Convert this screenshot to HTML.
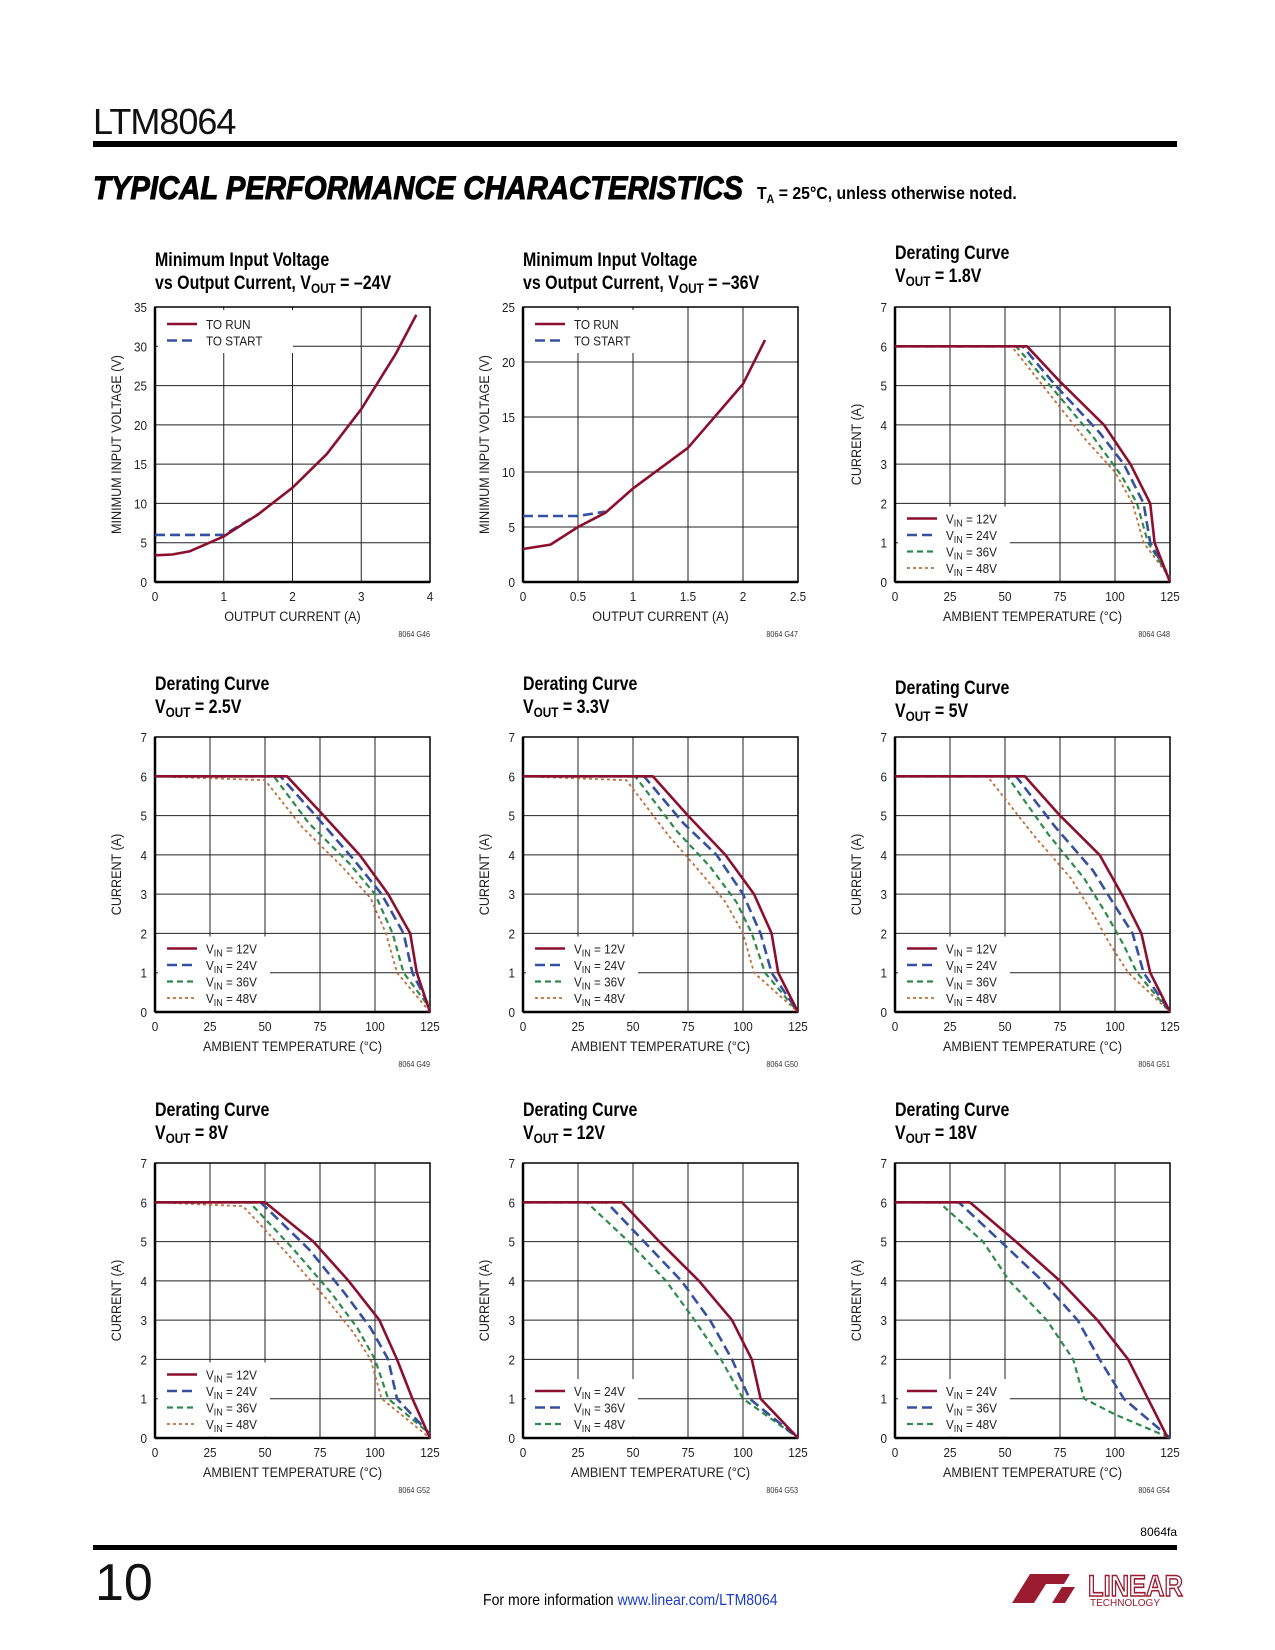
<!DOCTYPE html>
<html><head><meta charset="utf-8"><style>
html,body{margin:0;padding:0;background:#fff}
svg{display:block}
text{font-family:"Liberation Sans Narrow","Liberation Sans",sans-serif}
</style></head><body>
<svg id="page" width="1275" height="1650" viewBox="0 0 1275 1650" xmlns="http://www.w3.org/2000/svg">
<text x="93" y="134" font-size="36" fill="#111" style="font-family:'Liberation Sans',sans-serif" letter-spacing="-1">LTM8064</text>
<rect x="93" y="141" width="1084" height="6" fill="#000"/>
<text x="93" y="199" font-size="32" font-weight="bold" font-style="italic" fill="#000" stroke="#000" stroke-width="1" style="font-family:'Liberation Sans',sans-serif" textLength="650" lengthAdjust="spacingAndGlyphs">TYPICAL PERFORMANCE CHARACTERISTICS</text>
<g transform="translate(757,199) scale(0.88,1)"><text x="0" y="0" font-size="18" font-weight="bold" fill="#000">T<tspan font-size="12" dy="4">A</tspan><tspan dy="-4"> = 25°C, unless otherwise noted.</tspan></text></g>
<g id="charts"></g>
<text x="1177" y="1536" font-size="12" text-anchor="end" fill="#000">8064fa</text>
<rect x="93" y="1545" width="1084" height="5" fill="#000"/>
<text x="95" y="1600" font-size="52" fill="#111" style="font-family:'Liberation Sans',sans-serif">10</text>
<g transform="translate(483,1605) scale(0.88,1)"><text x="0" y="0" font-size="16" fill="#000">For more information <tspan fill="#1a3cc8">www.linear.com/LTM8064</tspan></text></g>
<g>
<path d="M1012 1603 L1030 1574 L1070 1574 L1064 1584 L1046 1584 L1034 1603 Z" fill="#9b1b30"/>
<path d="M1052 1603 L1062 1587 L1075 1587 L1065 1603 Z" fill="#9b1b30"/>
<g transform="translate(1088,1596) scale(0.85,1)"><text x="0" y="0" font-size="30" font-weight="bold" fill="none" stroke="#9b1b30" stroke-width="1.5">LINEAR</text></g>
<text x="1090" y="1606" font-size="10" fill="#9b1b30">TECHNOLOGY</text>
</g>
</svg>
<script>
// ---------- Chart 1 data ----------
const c1Cur=[0,0.25,0.5,1,1.5,2,2.5,3,3.5,3.8];
const c1Run=[3.4,3.5,3.9,5.8,8.6,12,16.3,22,29,34];
const c1StartCur=[0,1,1.5];
const c1Start=[6,6,8.6];
// ---------- Chart 2 data ----------
const c2Cur=[0,0.25,0.5,0.75,1,1.5,2,2.2];
const c2Run=[3,3.4,5,6.3,8.5,12.2,18,22];
const c2StartCur=[0,0.5,0.75];
const c2Start=[6,6,6.4];
// ---------- Derating data (temperature, current) ----------
const d18_12t=[0,60,75,95,107,116,118,125], d18_12=[6,6,5.1,4,3,2,1,0];
const d18_24t=[0,58,73,93,104,113,116,125], d18_24=[6,6,5,3.8,3,2,1,0.1];
const d18_36t=[0,55,72,90,103,110,115,125], d18_36=[6,6,4.9,3.7,2.7,2,1,0.1];
const d18_48t=[0,53,70,87,100,108,113,125], d18_48=[6,6,4.8,3.6,2.8,2,1,0.1];
const d25_12t=[0,60,75,93,106,116,119,125], d25_12=[6,6,5.1,4,3,2,1,0];
const d25_24t=[0,57,73,90,103,113,117,125], d25_24=[6,6,5,3.9,3,2,1,0.1];
const d25_36t=[0,54,70,88,100,108,113,125], d25_36=[6,6,4.8,3.8,3,2,1,0.1];
const d25_48t=[0,50,67,85,98,105,110,125], d25_48=[6,5.9,4.7,3.7,2.9,2,1,0];
const d33_12t=[0,59,75,92,105,113,116,125], d33_12=[6,6,5,4,3,2,1,0];
const d33_24t=[0,55,73,88,100,108,113,125], d33_24=[6,6,4.8,4,3,2,1,0];
const d33_36t=[0,51,70,85,97,104,110,125], d33_36=[6,6,4.6,3.7,2.8,2,1,0];
const d33_48t=[0,47,66,80,92,100,105,125], d33_48=[6,5.9,4.5,3.6,2.8,2,1,0];
const d5_12t=[0,59,75,93,103,112,116,125], d5_12=[6,6,5,4,3,2,1,0];
const d5_24t=[0,55,73,90,100,108,113,125], d5_24=[6,6,4.7,3.6,2.7,2,1,0];
const d5_36t=[0,51,70,86,96,104,110,125], d5_36=[6,6,4.5,3.4,2.5,1.7,1,0];
const d5_48t=[0,42,63,80,90,98,106,125], d5_48=[6,6,4.5,3.4,2.5,1.7,1,0];
const d8_12t=[0,50,72,88,102,110,117,125], d8_12=[6,6,5,4,3,2,1,0];
const d8_24t=[0,48,70,86,98,106,110,125], d8_24=[6,6,4.8,3.7,2.8,2,1,0.1];
const d8_36t=[0,43,63,80,92,100,106,125], d8_36=[6,6,4.8,3.7,2.8,2,1,0.1];
const d8_48t=[0,40,60,77,90,98,103,125], d8_48=[6,5.9,4.7,3.6,2.7,2,1,0];
const d12_24t=[0,45,62,80,95,104,108,125], d12_24=[6,6,5,4,3,2,1,0];
const d12_36t=[0,38,55,72,85,95,103,125], d12_36=[6,6,5,4,3,2,1,0];
const d12_48t=[0,29,48,65,78,90,100,125], d12_48=[6,6,5,4,3,2,1,0];
const d18_24vt=[0,34,55,75,92,106,115,124], d18_24v=[6,6,5,4,3,2,1,0];
const d18_36vt=[0,29,50,67,83,93,104,125], d18_36v=[6,6,4.9,4,3,2,1,0];
const d18_48vt=[0,20,40,52,69,81,86,100,125], d18_48v=[6,6,5,4,3,2,1,0.6,0];
const tempTicks=["0","25","50","75","100","125"];
const curTicks=["0","1","2","3","4","5","6","7"];

const NS="http://www.w3.org/2000/svg";
const root=document.getElementById('charts');
function mk(tag,attrs,parent){const e=document.createElementNS(NS,tag);for(const k in attrs)e.setAttribute(k,attrs[k]);(parent||root).appendChild(e);return e;}
function ctext(parent,x,y,sc,attrs){const w=mk('g',{transform:`translate(${x},${y}) scale(${sc},1)`},parent);return mk('text',Object.assign({x:0,y:0},attrs),w);}
const ST={
 red:{stroke:'#8c0f2e',w:2.6,dash:''},
 blue:{stroke:'#3550a0',w:2.6,dash:'10,5'},
 green:{stroke:'#2e8a4c',w:2.2,dash:'6,4'},
 orange:{stroke:'#c0703a',w:1.8,dash:'3,3'}
};
function chart(o){
 const g=mk('g',{});
 
 
 const L=o.x,T=o.y,W=275,H=275;
 const sx=v=>L+(v-o.xmin)/(o.xmax-o.xmin)*W;
 const sy=v=>T+H-(v-o.ymin)/(o.ymax-o.ymin)*H;
 const t1=ctext(g,L,o.ty,0.84,{'font-size':19,'font-weight':'bold',fill:'#000'});
 t1.textContent=o.t1;
 
 
 const t2=ctext(g,L,o.ty+23,0.84,{'font-size':19,'font-weight':'bold',fill:'#000'});
 
 
 t2.innerHTML=o.t2;
 for(let i=1;i<o.xt.length-1;i++){const X=L+i*W/(o.xt.length-1);mk('line',{x1:X,x2:X,y1:T,y2:T+H,stroke:'#222','stroke-width':1},g);}
 for(let i=1;i<o.yt.length-1;i++){const Y=T+H-i*H/(o.yt.length-1);mk('line',{x1:L,x2:L+W,y1:Y,y2:Y,stroke:'#222','stroke-width':1},g);}
 mk('rect',{x:L,y:T,width:W,height:H,fill:'none',stroke:'#000','stroke-width':1.5},g);
 mk('line',{x1:L,x2:L+W,y1:T+H,y2:T+H,stroke:'#000','stroke-width':2.5},g);
 mk('line',{x1:L,x2:L,y1:T,y2:T+H,stroke:'#000','stroke-width':2.5},g);
 o.xt.forEach((s,i)=>{const e=ctext(g,L+i*W/(o.xt.length-1),T+H+19,0.9,{'font-size':13,'text-anchor':'middle',fill:'#222'});e.textContent=s;});
 o.yt.forEach((s,i)=>{const e=ctext(g,L-8,T+H-i*H/(o.yt.length-1)+5,0.9,{'font-size':13,'text-anchor':'end',fill:'#222'});e.textContent=s;});
 const xa=ctext(g,L+W/2,T+H+39,0.9,{'font-size':14,'text-anchor':'middle',fill:'#222'});
 xa.textContent=o.xl;
 
 
 const ya=mk('text',{x:0,y:0,'font-size':14,'text-anchor':'middle',fill:'#222',transform:`translate(${L-34},${T+H/2}) rotate(-90) scale(0.9,1)`},g);
 ya.textContent=o.yl;
 
 
 const code=ctext(g,L+W,T+H+55,0.9,{'font-size':8,'text-anchor':'end',fill:'#333'});
 code.textContent=o.code;
 
 
 const n=o.series.length, rowH=16.5;
 let ly0;
 if(o.legTop){ly0=T+17;mk('rect',{x:L+3,y:T+3,width:135,height:n*rowH+10,fill:'#fff'},g);}
 else{ly0=T+H-14-(n-1)*rowH;mk('rect',{x:L+3,y:ly0-12,width:112,height:n*rowH+8,fill:'#fff'},g);}
 for(let k=n-1;k>=0;k--){const s=o.series[k],st=ST[s.c];
  const pts=s.xs.map((v,i)=>sx(v).toFixed(1)+','+sy(s.ys[i]).toFixed(1)).join(' ');
  const p=mk('polyline',{points:pts,fill:'none',stroke:st.stroke,'stroke-width':st.w,'stroke-dasharray':st.dash,'stroke-linejoin':'round'},g);
  
  
 }
 o.series.forEach((s,k)=>{const st=ST[s.c],Y=ly0+k*rowH;
  const ln=mk('line',{x1:L+12,x2:L+42,y1:Y,y2:Y,stroke:st.stroke,'stroke-width':st.w,'stroke-dasharray':st.dash},g);
  
  
  const tx=ctext(g,L+51,Y+5,0.9,{'font-size':13,fill:'#222'});
  tx.innerHTML=s.label;
  
  
 });
}
const vin=v=>`V<tspan font-size="10" dy="3">IN</tspan><tspan dy="-3"> = ${v}V</tspan>`;
const vout=v=>`V<tspan font-size="14" dy="4">OUT</tspan><tspan dy="-4"> = ${v}</tspan>`;
const colX=[155,523,895], rowY=[307,737,1163];
chart({name:'chart-min-vin-24v',x:colX[0],y:rowY[0],ty:266,t1:'Minimum Input Voltage',t2:'vs Output Current, '+vout('–24V'),
 xmin:0,xmax:4,ymin:0,ymax:35,xt:["0","1","2","3","4"],yt:["0","5","10","15","20","25","30","35"],
 xl:'OUTPUT CURRENT (A)',yl:'MINIMUM INPUT VOLTAGE (V)',code:'8064 G46',legTop:true,
 series:[{id:'to-run',c:'red',xs:c1Cur,ys:c1Run,label:'TO RUN'},{id:'to-start',c:'blue',xs:c1StartCur,ys:c1Start,label:'TO START'}]});
chart({name:'chart-min-vin-36v',x:colX[1],y:rowY[0],ty:266,t1:'Minimum Input Voltage',t2:'vs Output Current, '+vout('–36V'),
 xmin:0,xmax:2.5,ymin:0,ymax:25,xt:["0","0.5","1","1.5","2","2.5"],yt:["0","5","10","15","20","25"],
 xl:'OUTPUT CURRENT (A)',yl:'MINIMUM INPUT VOLTAGE (V)',code:'8064 G47',legTop:true,
 series:[{id:'to-run',c:'red',xs:c2Cur,ys:c2Run,label:'TO RUN'},{id:'to-start',c:'blue',xs:c2StartCur,ys:c2Start,label:'TO START'}]});
function der(name,x,y,ty,v,code,list){
 chart({name,x,y,ty,t1:'Derating Curve',t2:vout(v),xmin:0,xmax:125,ymin:0,ymax:7,xt:tempTicks,yt:curTicks,
  xl:'AMBIENT TEMPERATURE (°C)',yl:'CURRENT (A)',code,legTop:false,
  series:list.map(s=>({id:'vin-'+s[0]+'v',c:s[1],xs:s[2],ys:s[3],label:vin(s[0])}))});
}
der('chart-derating-1v8',colX[2],rowY[0],259,'1.8V','8064 G48',[[12,'red',d18_12t,d18_12],[24,'blue',d18_24t,d18_24],[36,'green',d18_36t,d18_36],[48,'orange',d18_48t,d18_48]]);
der('chart-derating-2v5',colX[0],rowY[1],690,'2.5V','8064 G49',[[12,'red',d25_12t,d25_12],[24,'blue',d25_24t,d25_24],[36,'green',d25_36t,d25_36],[48,'orange',d25_48t,d25_48]]);
der('chart-derating-3v3',colX[1],rowY[1],690,'3.3V','8064 G50',[[12,'red',d33_12t,d33_12],[24,'blue',d33_24t,d33_24],[36,'green',d33_36t,d33_36],[48,'orange',d33_48t,d33_48]]);
der('chart-derating-5v',colX[2],rowY[1],694,'5V','8064 G51',[[12,'red',d5_12t,d5_12],[24,'blue',d5_24t,d5_24],[36,'green',d5_36t,d5_36],[48,'orange',d5_48t,d5_48]]);
der('chart-derating-8v',colX[0],rowY[2],1116,'8V','8064 G52',[[12,'red',d8_12t,d8_12],[24,'blue',d8_24t,d8_24],[36,'green',d8_36t,d8_36],[48,'orange',d8_48t,d8_48]]);
der('chart-derating-12v',colX[1],rowY[2],1116,'12V','8064 G53',[[24,'red',d12_24t,d12_24],[36,'blue',d12_36t,d12_36],[48,'green',d12_48t,d12_48]]);
der('chart-derating-18v',colX[2],rowY[2],1116,'18V','8064 G54',[[24,'red',d18_24vt,d18_24v],[36,'blue',d18_36vt,d18_36v],[48,'green',d18_48vt,d18_48v]]);
</script>
</body></html>
